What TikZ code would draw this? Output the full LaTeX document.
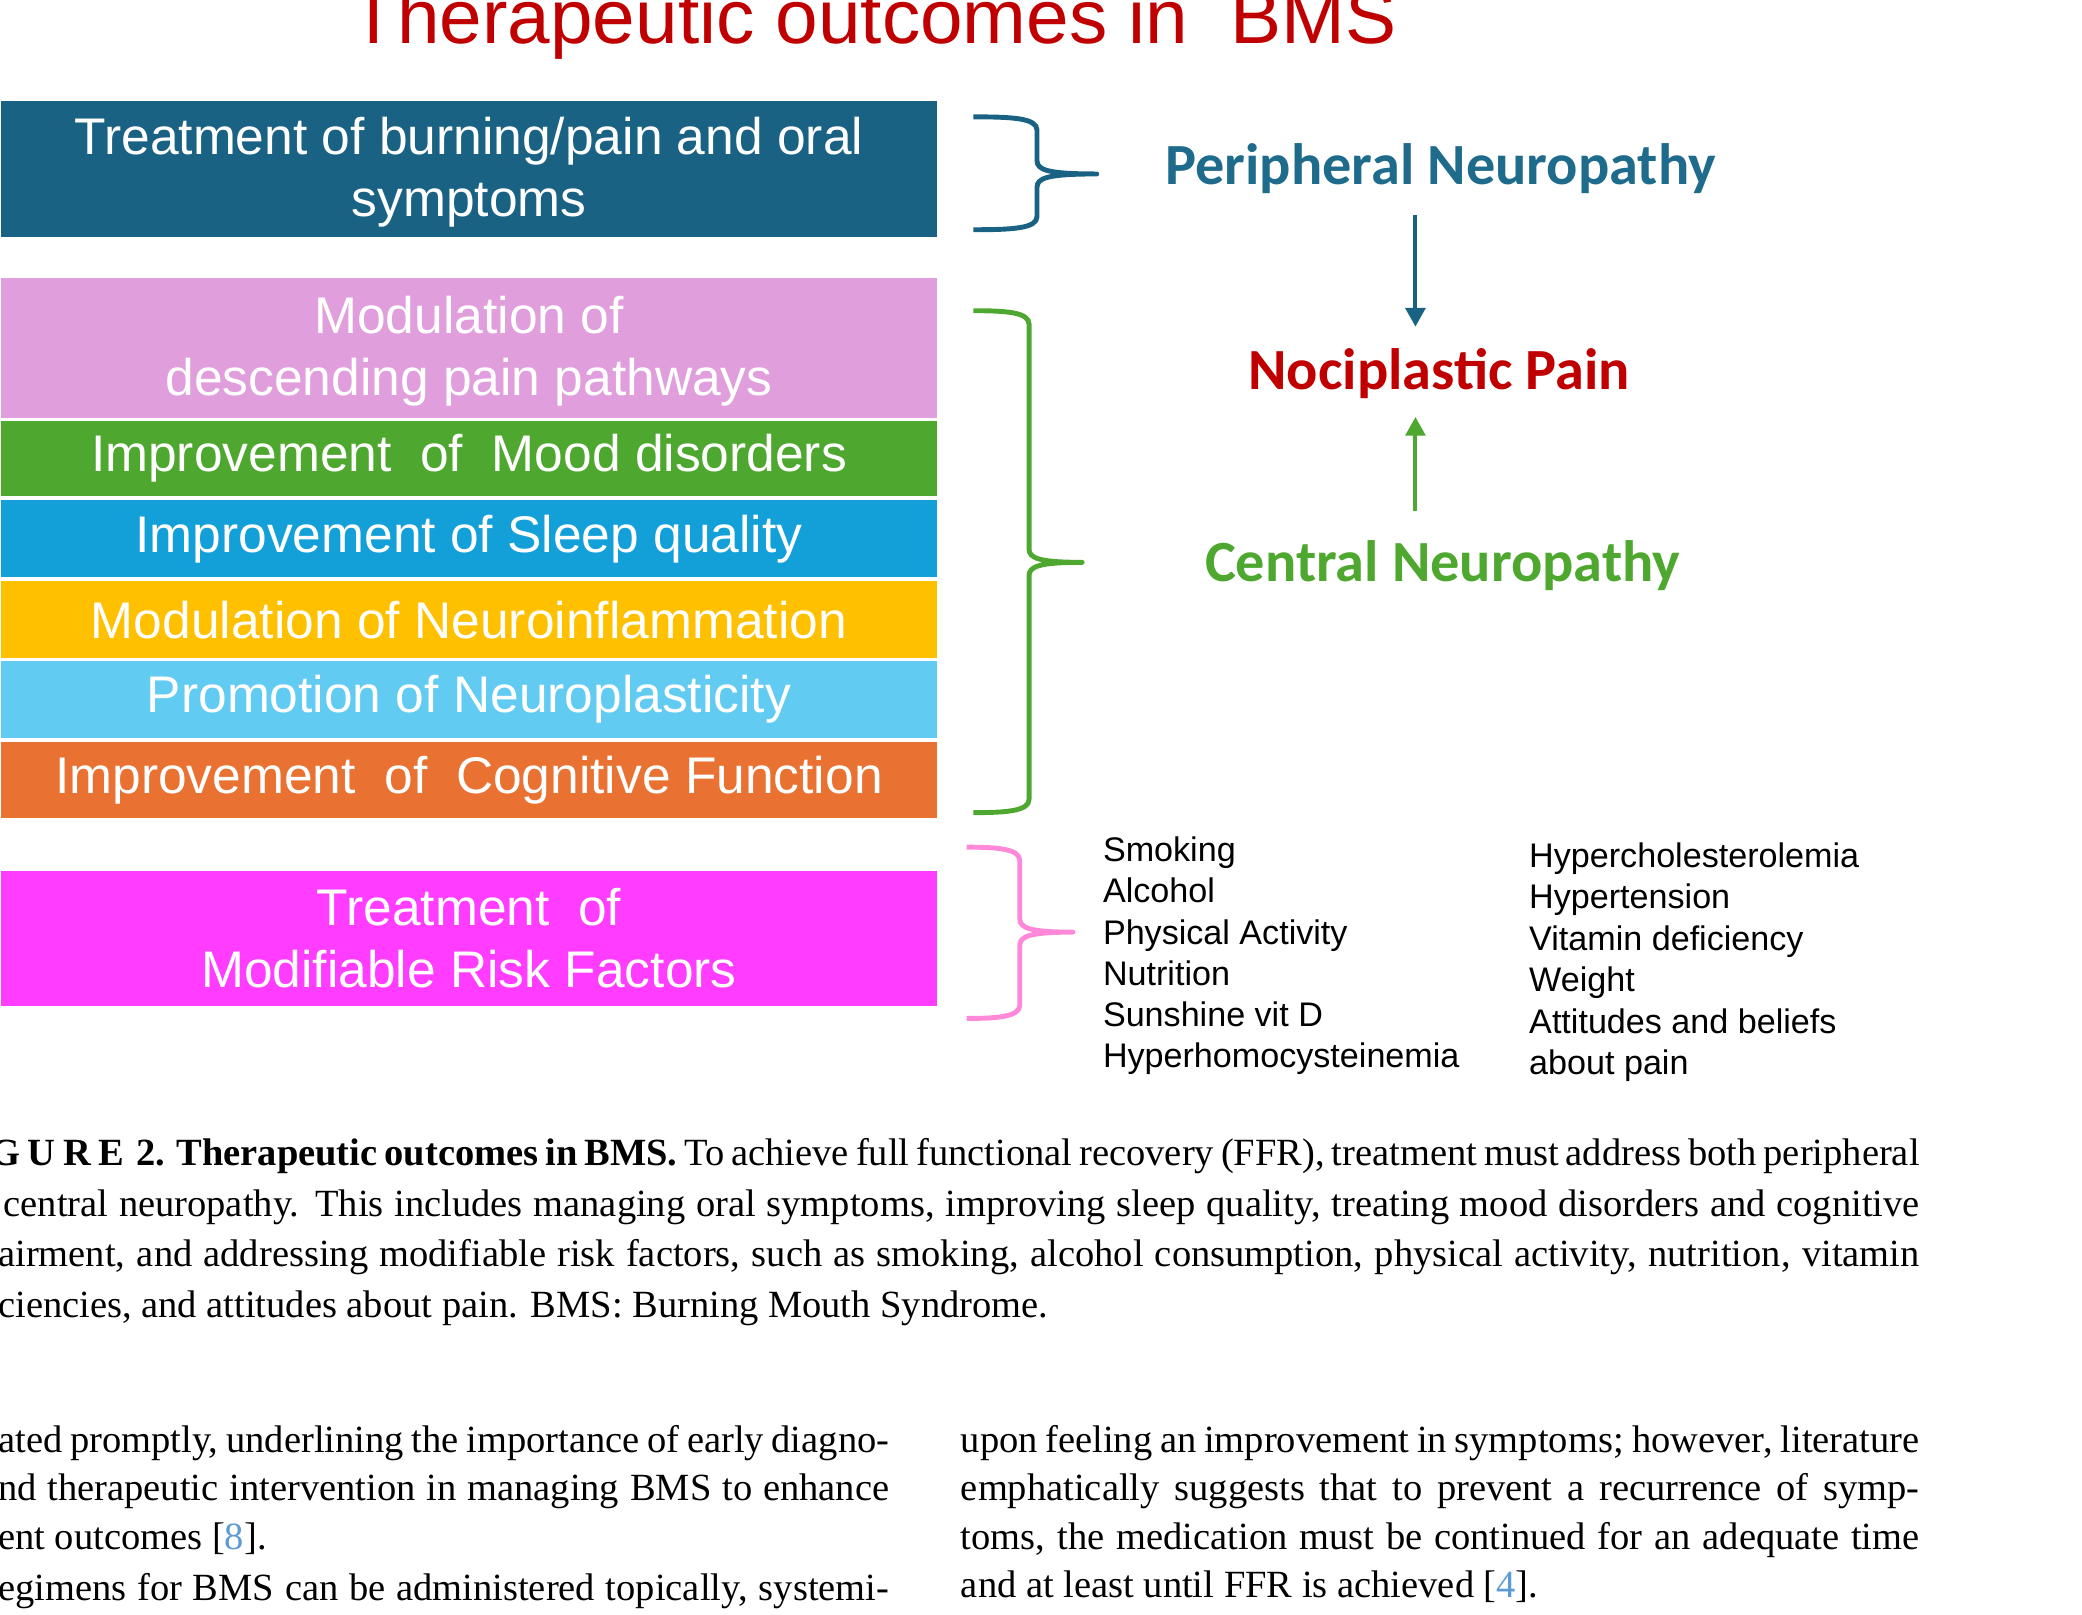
\documentclass[tikz,border=0pt]{standalone}
\usepackage{fontspec}
\setmainfont{Liberation Serif}
\newfontfamily\arialfont{Liberation Sans}
\newfontfamily\calibrifont{Carlito}
\usetikzlibrary{arrows.meta}

\definecolor{bmsteal}{HTML}{1A6284}
\definecolor{labteal}{HTML}{1F6B8C}
\definecolor{bmspink}{HTML}{E09FDC}
\definecolor{bmsgreen}{HTML}{4EA72E}
\definecolor{bmsblue}{HTML}{139FD7}
\definecolor{bmsamber}{HTML}{FFC000}
\definecolor{bmssky}{HTML}{61CBF2}
\definecolor{bmsorange}{HTML}{E97132}
\definecolor{bmsmagenta}{HTML}{FF3CFF}
\definecolor{bracepink}{HTML}{FF88D8}
\definecolor{bmsred}{HTML}{C00000}
\definecolor{citeblue}{HTML}{5B9BD5}

% colour, x left, x spine, x tip, y top, y tip, y bottom
\newcommand{\sidebrace}[7]{%
  \draw[#1, line width=1.05pt, line join=round]
    (#2,#5) .. controls (#3-18,#5) and (#3,#5+1) .. (#3,#5+10)
    -- (#3,#6-10) .. controls (#3,#6-3) and (#3+8,#6) .. (#4,#6)
    .. controls (#3+8,#6) and (#3,#6+3) .. (#3,#6+10)
    -- (#3,#7-10) .. controls (#3,#7-1) and (#3-18,#7) .. (#2,#7);}

\begin{document}
\begin{tikzpicture}[x=0.1mm, y=-0.1mm,
    band/.style={anchor=north west, inner sep=0pt, minimum width=70.5mm,
        text=white, align=center, font=\arialfont\fontsize{11.04}{13.37}\selectfont},
    nlabel/.style={anchor=base, inner sep=0pt,
        font=\calibrifont\bfseries\fontsize{12.5}{15}\selectfont},
    risk/.style={anchor=base west, inner sep=0pt, font=\arialfont\fontsize{7.31}{8.8}\selectfont},
    capline/.style={anchor=base west, inner sep=0pt, font=\fontsize{8.25}{10.8}\selectfont},
    arr/.style={-{Triangle[width=4.2pt,length=4pt]}, line width=0.85pt}]
\useasboundingbox (0,0) rectangle (1568,1216);
\clip (0,0) rectangle (1568,1216);

\node[anchor=base, inner sep=0pt, text=bmsred,
    font=\arialfont\fontsize{16.4}{20}\selectfont] (title) at (658,33) {Therapeutic outcomes in~ BMS};

% outcome bands
\node[band, fill=bmsteal, minimum height=10.3mm] (burn) at (0,75) {\\[-4pt]Treatment of burning/pain and oral\\symptoms};
\node[band, fill=bmspink, minimum height=10.5mm] (desc) at (0,209) {\\[-4pt]Modulation of\\descending pain pathways};
\node[band, fill=bmsgreen, minimum height=5.7mm] (mood) at (0,316) {Improvement~ of~ Mood disorders};
\node[band, fill=bmsblue, minimum height=5.8mm] (sleep) at (0,376) {Improvement of Sleep quality};
\node[band, fill=bmsamber, minimum height=5.8mm] (infl) at (0,437) {Modulation of Neuroinflammation};
\node[band, fill=bmssky, minimum height=5.8mm] (plast) at (0,497) {Promotion of Neuroplasticity};
\node[band, fill=bmsorange, minimum height=5.7mm] (cogn) at (0,558) {Improvement~ of~ Cognitive Function};
\node[band, fill=bmsmagenta, minimum height=10.2mm] (riskf) at (0,655) {Treatment~ of\\Modifiable Risk Factors};

\sidebrace{bmsteal}{733}{781}{826}{88}{131}{173}
\sidebrace{bmsgreen}{733}{775}{815}{234}{423.5}{612}
\sidebrace{bracepink}{728}{768}{808}{638}{702}{767}

\node[nlabel, text=labteal] (periph) at (1085,139) {Peripheral Neuropathy};
\node[nlabel, text=bmsred] (nocip) at (1084,293) {Nociplastic Pain};
\node[nlabel, text=bmsgreen] (central) at (1086.5,438) {Central Neuropathy};

\draw[arr, bmsteal] ([shift={(-19,23)}]periph.base) -- ([shift={(-18,-47)}]nocip.base);
\draw[arr, bmsgreen] ([shift={(-20.5,-53.5)}]central.base) -- ([shift={(-18,21)}]nocip.base);

\foreach \t [count=\i] in {Smoking, Alcohol, Physical Activity, Nutrition, Sunshine vit D, Hyperhomocysteinemia}
  \node[risk] (ra\i) at (830,618+31*\i) {\t};
\foreach \t [count=\i] in {Hypercholesterolemia, Hypertension, Vitamin deficiency, Weight, Attitudes and beliefs, about pain}
  \node[risk] (rb\i) at (1151,622+31.2*\i) {\t};

% caption
\node[capline] (cap1) at (-8,878) {\makebox[145.3mm][s]{\textbf{G\kern.2em U\kern.2em R\kern.2em E\kern.3em 2.\kern.3em Therapeutic outcomes in BMS.} To achieve full functional recovery (FFR), treatment must address both peripheral}};
\node[capline] (cap2) at (2,916) {\makebox[144.3mm][s]{central neuropathy. This includes managing oral symptoms, improving sleep quality, treating mood disorders and cognitive}};
\node[capline] (cap3) at (-2,954) {\makebox[144.7mm][s]{airment, and addressing modifiable risk factors, such as smoking, alcohol consumption, physical activity, nutrition, vitamin}};
\node[capline] (cap4) at (-2,992) {ciencies, and attitudes about pain. BMS: Burning Mouth Syndrome.};

% body text
\node[capline] (bl1) at (-2,1094) {\makebox[67.1mm][s]{ated promptly, underlining the importance of early diagno-}};
\node[capline] (bl2) at (-2,1130) {\makebox[67.1mm][s]{nd therapeutic intervention in managing BMS to enhance}};
\node[capline] (bl3) at (-2,1167) {ent outcomes [\textcolor{citeblue}{8}].};
\node[capline] (bl4) at (-2,1205) {\makebox[67.1mm][s]{egimens for BMS can be administered topically, systemi-}};
\node[capline] (br1) at (723,1094) {\makebox[72.2mm][s]{upon feeling an improvement in symptoms; however, literature}};
\node[capline] (br2) at (723,1130) {\makebox[72.2mm][s]{emphatically suggests that to prevent a recurrence of symp-}};
\node[capline] (br3) at (723,1167) {\makebox[72.2mm][s]{toms, the medication must be continued for an adequate time}};
\node[capline] (br4) at (723,1203) {and at least until FFR is achieved [\textcolor{citeblue}{4}].};
\end{tikzpicture}
\end{document}
